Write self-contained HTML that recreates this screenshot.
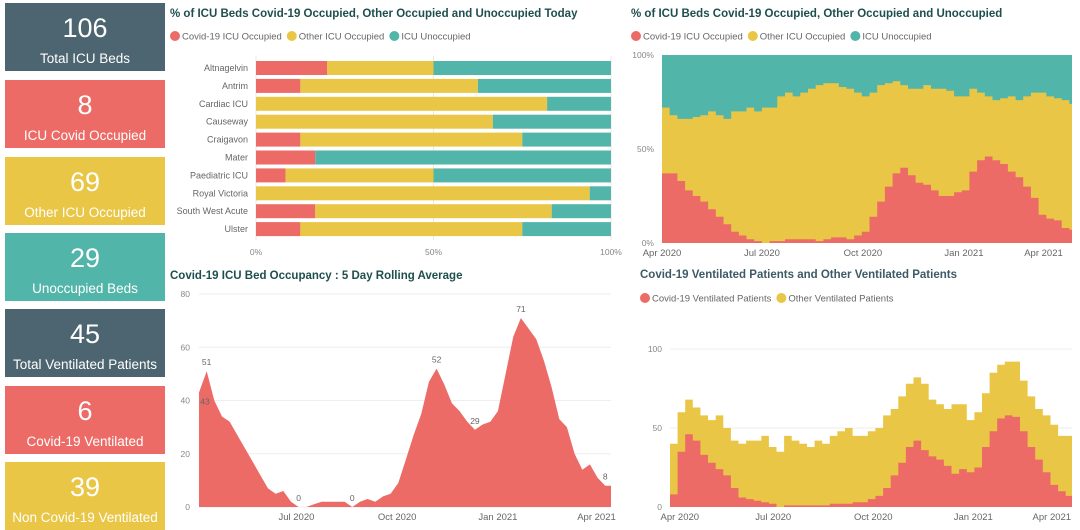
<!DOCTYPE html>
<html><head><meta charset="utf-8">
<style>
body{margin:0;width:1080px;height:528px;overflow:hidden;background:#fff;font-family:"Liberation Sans",sans-serif;position:relative}
.kpi{position:absolute;left:5px;width:160px;height:68px;color:#fff;text-align:center}
.kpi .v{position:absolute;top:10px;width:100%;font-size:27px}
.kpi .l{position:absolute;top:48px;width:100%;font-size:13.5px}
svg{position:absolute;left:0;top:0}
</style></head><body>
<div class="kpi" style="top:3px;background:#4d6570"><div class="v">106</div><div class="l">Total ICU Beds</div></div>
<div class="kpi" style="top:80px;background:#ec6b66"><div class="v">8</div><div class="l">ICU Covid Occupied</div></div>
<div class="kpi" style="top:157px;background:#e9c645"><div class="v">69</div><div class="l">Other ICU Occupied</div></div>
<div class="kpi" style="top:233px;background:#52b5a9"><div class="v">29</div><div class="l">Unoccupied Beds</div></div>
<div class="kpi" style="top:309px;background:#4d6570"><div class="v">45</div><div class="l">Total Ventilated Patients</div></div>
<div class="kpi" style="top:386px;background:#ec6b66"><div class="v">6</div><div class="l">Covid-19 Ventilated</div></div>
<div class="kpi" style="top:462px;background:#e9c645"><div class="v">39</div><div class="l">Non Covid-19 Ventilated</div></div>
<svg id="s" width="1080" height="528"></svg>
<script>
// Chart 1: hospital bars (percent)
const hospitals=["Altnagelvin","Antrim","Cardiac ICU","Causeway","Craigavon","Mater","Paediatric ICU","Royal Victoria","South West Acute","Ulster"];
const hospCovid=[20,12.5,0,0,12.5,16.7,8.3,0,16.7,12.5];
const hospOther=[30,50,82,66.7,62.5,0,41.7,94,66.6,62.5];
// Chart 2: weekly % from 1 Apr 2020
const pctCovid=[37,37,33,28,25,22,18,14,10,6,4,2,1,0,1,1,2,2,2,2,1,2,3,3,2,4,6,14,22,30,37,40,36,32,31,28,25,25,27,28,38,44,46,44,42,38,35,30,24,15,13,12,8,7];
const pctOccupied=[72,68,66,66,67,68,70,68,66,70,70,72,70,72,72,78,80,78,80,82,84,85,85,83,82,80,78,80,84,85,86,84,82,82,84,82,82,81,78,78,82,80,78,76,77,78,76,78,80,80,78,77,76,74];
// Chart 3: weekly rolling average from 3 Apr 2020
const rollAvg=[43,51,40,34,32,27,22,17,12,7,5,6,2,0,0,1,2,2,2,2,0,2,3,2,4,5,9,18,27,35,47,52,46,39,36,32,29,31,32,36,50,64,71,67,63,55,45,33,30,20,14,16,11,8];
const rollLabels=[[0,"43"],[1,"51"],[13,"0"],[20,"0"],[31,"52"],[36,"29"],[42,"71"],[53,"8"]];
// Chart 4: weekly ventilated from 28 Mar 2020
const ventCovid=[8,35,46,42,33,28,24,20,12,6,5,4,3,2,0,1,1,1,1,1,1,2,2,2,3,3,5,7,12,20,28,38,42,36,32,30,26,21,24,22,25,38,48,56,58,57,48,38,30,22,14,10,7];
const ventTotal=[40,60,68,63,58,55,58,50,42,40,42,42,45,38,35,45,42,40,38,42,40,45,48,50,45,45,48,50,58,62,70,78,82,78,68,65,62,65,65,55,60,72,85,90,92,92,80,70,62,58,52,45,45];

const NS="http://www.w3.org/2000/svg",S=document.getElementById('s');
const RED="#ec6b66",YEL="#e9c645",TEAL="#52b5a9",TC="#1f4e4f",GC="#666";
function mk(t,a,p){const e=document.createElementNS(NS,t);for(const k in a)e.setAttribute(k,a[k]);(p||S).appendChild(e);return e;}
function txt(x,y,s,size,fill,anchor,weight){const e=mk('text',{x:x,y:y,'font-size':size,fill:fill,'text-anchor':anchor||'start','font-weight':weight||'normal'});e.textContent=s;return e;}
function legend(x,y,items){items.forEach(it=>{const c=mk('circle',{cx:x+5,cy:y,r:5,fill:it[1]});


const t=txt(x+12,y+3.5,it[0],9.5,GC);


x+=12+t.getComputedTextLength()+5;});}
function xlab(x,y,s,last){const l=txt(last?Math.min(x,1076):x,y,s,9.5,'#666',last&&x+22>1076?'end':'middle');

}

// ---- Chart 1
let t=txt(170,17,"% of ICU Beds Covid-19 Occupied, Other Occupied and Unoccupied Today",11.5,TC,'start','bold');


legend(170,36,[["Covid-19 ICU Occupied",RED],["Other ICU Occupied",YEL],["ICU Unoccupied",TEAL]]);
const bx0=256,bx1=611,bxs=v=>bx0+(bx1-bx0)*v/100,byc=i=>68+i*17.9;
[0,50,100].forEach(v=>{const g=mk('line',{x1:bxs(v),x2:bxs(v),y1:56,y2:240,stroke:'#e8e8e8'});


const l=txt(bxs(v),255,v+"%",8.5,'#888','middle');

});
hospitals.forEach((h,i)=>{const y=byc(i)-7;
const l=txt(248,byc(i)+3,h,9,GC,'end');


const c=hospCovid[i],o=hospOther[i];
let r=mk('rect',{x:bxs(0),y:y,width:bxs(c)-bxs(0),height:14,fill:RED});


r=mk('rect',{x:bxs(c),y:y,width:bxs(c+o)-bxs(c),height:14,fill:YEL});


r=mk('rect',{x:bxs(c+o),y:y,width:bxs(100)-bxs(c+o),height:14,fill:TEAL});

});

// ---- Chart 2
t=txt(631,17,"% of ICU Beds Covid-19 Occupied, Other Occupied and Unoccupied",11.5,TC,'start','bold');


legend(631,36,[["Covid-19 ICU Occupied",RED],["Other ICU Occupied",YEL],["ICU Unoccupied",TEAL]]);
const px0=662,px1=1072,py0=243,py1=55,ppd=1.098;
const pX=d=>px0+d*ppd, pY=v=>py0-(py0-py1)*v/100;
function stackArea(arrLo,arrHi,xf,yf,fill,name){let d="";const n=arrHi.length;
for(let i=0;i<n;i++){d+=(i?"L":"M")+xf(i).toFixed(1)+","+yf(arrHi[i]).toFixed(1)+" L"+xf(i+1).toFixed(1)+","+yf(arrHi[i]).toFixed(1)+" ";}
for(let i=n-1;i>=0;i--){const lo=arrLo?arrLo[i]:0;d+="L"+xf(i+1).toFixed(1)+","+yf(lo).toFixed(1)+" L"+xf(i).toFixed(1)+","+yf(lo).toFixed(1)+" ";}
const p=mk('path',{d:d+"Z",fill:fill});

}
const pxw=i=>Math.min(px1,pX(i*7));
let r=mk('rect',{x:px0,y:py1,width:px1-px0,height:py0-py1,fill:TEAL});


stackArea(null,pctOccupied,pxw,pY,YEL,'area-other-occupied');
stackArea(null,pctCovid,pxw,pY,RED,'area-covid-occupied');
[[0,"0%"],[50,"50%"],[100,"100%"]].forEach(a=>{const l=txt(654,pY(a[0])+3,a[1],8.5,'#888','end');

});
[["Apr 2020",0],["Jul 2020",91],["Oct 2020",183],["Jan 2021",275],["Apr 2021",365]].forEach((a,i)=>xlab(pX(a[1]),256,a[0],i==4));

// ---- Chart 3
t=txt(170,279,"Covid-19 ICU Bed Occupancy : 5 Day Rolling Average",11.5,TC,'start','bold');


const rx0=199,rx1=611,ry0=507,ry1=294,rpd=1.095;
const rX=i=>Math.min(rx1,rx0+i*7*rpd), rY=v=>ry0-(ry0-ry1)*v/80;
[0,20,40,60,80].forEach(v=>{const g=mk('line',{x1:rx0,x2:rx1,y1:rY(v),y2:rY(v),stroke:'#eee'});


const l=txt(190,rY(v)+3,v,8.5,'#888','end');

});
let d="M"+rX(0)+","+rY(0);rollAvg.forEach((v,i)=>{d+=" L"+rX(i).toFixed(1)+","+rY(v).toFixed(1);});d+=" L"+rx1+","+rY(rollAvg[rollAvg.length-1]).toFixed(1)+" L"+rx1+","+rY(0)+"Z";
let p=mk('path',{d:d,fill:RED});


rollLabels.forEach(a=>{const l=txt(Math.min(rX(a[0])+(a[0]==0?6:0),607),rY(rollAvg[a[0]])-(a[0]==0?-12:6),a[1],8.5,'#666','middle');

});
[["Jul 2020",89],["Oct 2020",181],["Jan 2021",273],["Apr 2021",363]].forEach(a=>xlab(rx0+a[1]*rpd,520,a[0],false));

// ---- Chart 4
t=txt(640,278,"Covid-19 Ventilated Patients and Other Ventilated Patients",11.5,"#3d5a66",'start','bold');


legend(640,298,[["Covid-19 Ventilated Patients",RED],["Other Ventilated Patients",YEL]]);
const vx0=670,vx1=1072,vy0=507,vpd=1.087;
const vX=i=>Math.min(vx1,vx0+i*7*vpd), vY=v=>vy0-1.58*v;
[50,100].forEach(v=>{const g=mk('line',{x1:vx0,x2:vx1,y1:vY(v),y2:vY(v),stroke:'#eee'});

});
[0,50,100].forEach(v=>{const l=txt(662,vY(v)+3,v,8.5,'#888','end');

});
stackArea(null,ventTotal,vX,vY,YEL,'area-other-ventilated');
stackArea(null,ventCovid,vX,vY,RED,'area-covid-ventilated');
[["Apr 2020",9],["Jul 2020",95],["Oct 2020",187],["Jan 2021",279],["Apr 2021",369]].forEach((a,i)=>xlab(vx0+a[1]*vpd,520,a[0],i==4));
</script>
</body></html>
